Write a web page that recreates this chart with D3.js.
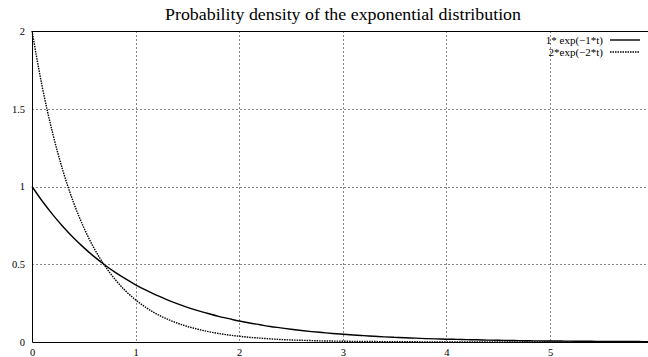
<!DOCTYPE html>
<html>
<head>
<meta charset="utf-8">
<script src="https://cdn.jsdelivr.net/npm/d3@7"></script>
<style>
  html, body { margin: 0; padding: 0; background: #fff; }
  svg { display: block; }
  text { font-family: "Liberation Serif", "Times New Roman", serif; fill: #000; }
</style>
</head>
<body>
<svg id="chart" width="648" height="357"></svg>
<script>
// Sample times (t) and density values of the two curves
const tValues = [0.0,0.1,0.2,0.3,0.4,0.5,0.6,0.7,0.8,0.9,1.0,1.1,1.2,1.3,1.4,1.5,1.6,1.7,1.8,1.9,2.0,2.1,2.2,2.3,2.4,2.5,2.6,2.7,2.8,2.9,3.0,3.1,3.2,3.3,3.4,3.5,3.6,3.7,3.8,3.9,4.0,4.1,4.2,4.3,4.4,4.5,4.6,4.7,4.8,4.9,5.0,5.1,5.2,5.3,5.4,5.5,5.6,5.7,5.8,5.9,6.0];
const densityRate1 = [1.000,0.905,0.819,0.741,0.670,0.607,0.549,0.497,0.449,0.407,0.368,0.333,0.301,0.273,0.247,0.223,0.202,0.183,0.165,0.150,0.135,0.122,0.111,0.100,0.091,0.082,0.074,0.067,0.061,0.055,0.050,0.045,0.041,0.037,0.033,0.030,0.027,0.025,0.022,0.020,0.018,0.017,0.015,0.014,0.012,0.011,0.010,0.009,0.008,0.007,0.0067,0.006,0.0055,0.005,0.0045,0.004,0.0037,0.0033,0.003,0.0027,0.0025];
const densityRate2 = [2.000,1.637,1.341,1.098,0.899,0.736,0.602,0.493,0.404,0.331,0.271,0.222,0.181,0.149,0.122,0.100,0.082,0.067,0.055,0.045,0.037,0.030,0.025,0.020,0.016,0.013,0.011,0.009,0.007,0.006,0.005,0.004,0.003,0.003,0.002,0.002,0.0015,0.0012,0.001,0.0008,0.0007,0.0005,0.0004,0.0004,0.0003,0.0002,0.0002,0.0002,0.0001,0.0001,0.0001,0.0001,0.0001,0,0,0,0,0,0,0,0];
const xTicks = [0, 1, 2, 3, 4, 5];
const xTickLabels = ["0", "1", "2", "3", "4", "5"];
const yTicks = [0, 0.5, 1, 1.5, 2];
const yTickLabels = ["0", "0.5", "1", "1.5", "2"];
const seriesNames = ["1* exp(\u22121*t)", "2*exp(\u22122*t)"];
const chartTitle = "Probability density of the exponential distribution";

const svg = d3.select("#chart");
const plotLeft = 32, plotRight = 653.6, plotTop = 31, plotBottom = 342;

const x = d3.scaleLinear().domain([0, 6]).range([plotLeft, plotRight]);
const y = d3.scaleLinear().domain([0, 2]).range([plotBottom, plotTop]);

// Grid
const grid = svg.append("g").attr("stroke", "#8a8a8a").attr("stroke-width", 1)
  .attr("stroke-dasharray", "2,2").attr("fill", "none");
xTicks.slice(1).forEach(v => {
  const px = Math.round(x(v)) + 0.5;
  grid.append("line").attr("x1", px).attr("x2", px).attr("y1", plotTop).attr("y2", plotBottom);
});
yTicks.slice(1, -1).forEach(v => {
  const py = Math.round(y(v)) + 0.5;
  grid.append("line").attr("x1", plotLeft).attr("x2", 648).attr("y1", py).attr("y2", py);
});

// Tick labels via d3 axes (axis lines hidden, text kept)
const xAxis = d3.axisBottom(x).tickValues(xTicks).tickFormat((d, i) => xTickLabels[i]).tickSize(0).tickPadding(0);
const gx = svg.append("g").attr("transform", `translate(0,${plotBottom})`).call(xAxis);
gx.select(".domain").remove();
gx.selectAll("text").attr("font-family", "Liberation Serif").attr("font-size", 10.5)
  .attr("y", 13.5).attr("dy", 0);

const yAxis = d3.axisLeft(y).tickValues(yTicks).tickFormat((d, i) => yTickLabels[i]).tickSize(0).tickPadding(7);
const gy = svg.append("g").attr("transform", `translate(${plotLeft},0)`).call(yAxis);
gy.select(".domain").remove();
gy.selectAll("text").attr("font-family", "Liberation Serif").attr("font-size", 10.5).attr("dy", "0.33em");

// Frame: top, left, bottom
const frame = svg.append("g").attr("stroke", "#000").attr("stroke-width", 1).attr("fill", "none");
frame.append("path").attr("d", `M648,${plotTop + 0.5}H${plotLeft + 0.5}V${plotBottom + 0.5}H648`);

// Curves
const line = d3.line().x((d, i) => x(tValues[i])).y(d => y(d)).curve(d3.curveMonotoneX);
svg.append("path").datum(densityRate1).attr("d", line)
  .attr("fill", "none").attr("stroke", "#000").attr("stroke-width", 1.4);
svg.append("path").datum(densityRate2).attr("d", line)
  .attr("fill", "none").attr("stroke", "#000").attr("stroke-width", 1.4)
  .attr("stroke-dasharray", "1.5,1");

// Legend
const legend = svg.append("g");
seriesNames.forEach((name, i) => {
  const ly = 40 + i * 12;
  legend.append("text").attr("x", 603).attr("y", ly).attr("dy", "0.33em")
    .attr("text-anchor", "end").attr("font-size", 11).text(name);
  legend.append("line").attr("x1", 610).attr("x2", 640).attr("y1", ly).attr("y2", ly)
    .attr("stroke", "#000").attr("stroke-width", 1.4)
    .attr("stroke-dasharray", i === 1 ? "1.5,1" : null);
});

// Title
svg.append("text").attr("x", 343).attr("y", 19.5).attr("text-anchor", "middle")
  .attr("font-size", 16.5).attr("textLength", 356).attr("lengthAdjust", "spacingAndGlyphs")
  .text(chartTitle);
</script>
</body>
</html>
